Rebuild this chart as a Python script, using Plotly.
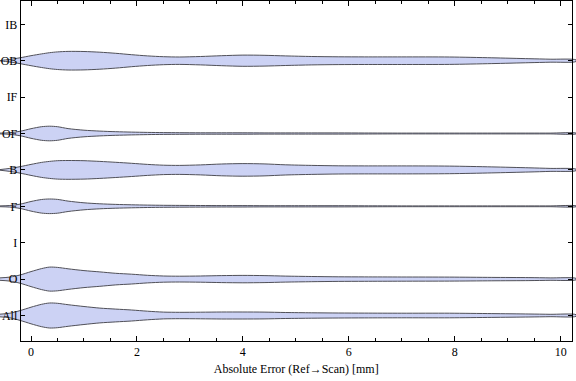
import plotly.graph_objects as go

# Category order, bottom (position 1) to top (position 9)
categories = ["All", "O", "I", "F", "B", "OF", "IF", "OB", "IB"]

# Shared sample grid of absolute error values [mm]
x_grid = [-0.59, -0.4, -0.2, 0.0, 0.2, 0.35, 0.5, 0.7, 1.0, 1.3, 1.6, 1.9, 2.2, 2.5,
          2.8, 3.2, 3.6, 4.0, 4.4, 4.8, 5.3, 5.8, 6.3, 7.0, 7.9, 8.7, 9.4, 9.8, 10.29]

# Estimated (scaled) density half-widths of each violin along x_grid
ob_density = [0.0, 1.3, 3.0, 5.0, 6.8, 8.0, 8.8, 9.3, 9.2, 8.5, 7.4, 6.0, 4.8, 4.0,
              3.7, 4.2, 5.0, 5.6, 5.4, 4.8, 4.2, 3.9, 3.8, 3.8, 3.7, 2.9, 2.0, 1.5, 0.8]
b_density = [0.3, 1.5, 3.3, 5.5, 7.5, 8.5, 9.2, 9.4, 9.2, 8.5, 7.6, 6.6, 5.5, 4.7,
             4.5, 5.0, 5.9, 6.3, 6.0, 5.1, 4.5, 4.1, 4.0, 4.0, 3.8, 3.0, 2.1, 1.5, 0.7]
of_density = [0.4, 0.8, 2.3, 4.8, 6.8, 7.3, 6.8, 4.9, 3.3, 2.4, 1.8, 1.4, 1.1, 0.9,
              0.8, 0.7, 0.7, 0.7, 0.6, 0.6, 0.6, 0.6, 0.5, 0.4, 0.4, 0.4, 0.4, 0.4, 0.4]
f_density = [0.4, 0.8, 2.2, 4.8, 6.8, 7.3, 6.9, 5.2, 3.5, 2.5, 1.9, 1.5, 1.2, 1.0,
             0.9, 0.8, 0.7, 0.7, 0.6, 0.6, 0.6, 0.6, 0.5, 0.4, 0.4, 0.4, 0.4, 0.4, 0.4]
o_density = [1.2, 2.0, 4.2, 7.5, 10.5, 12.0, 11.7, 10.3, 8.5, 7.2, 5.8, 4.9, 3.8, 3.1,
             2.9, 3.1, 3.5, 3.7, 3.5, 3.0, 2.6, 2.3, 2.2, 2.1, 2.0, 1.7, 1.5, 1.2, 0.7]
all_density = [1.3, 2.3, 5.0, 8.3, 11.2, 12.5, 12.2, 10.8, 9.0, 7.4, 6.4, 5.5, 4.3, 3.4,
               3.2, 3.3, 3.5, 3.5, 3.4, 3.0, 2.7, 2.5, 2.4, 2.3, 2.3, 1.9, 1.5, 1.2, 0.8]

violins = {"OB": ob_density, "B": b_density, "OF": of_density,
           "F": f_density, "O": o_density, "All": all_density}

x_ticks = [0, 2, 4, 6, 8, 10]
x_title = "Absolute Error (Ref\u2192Scan) [mm]"

DENSITY_SCALE = 1 / 36.4
FILL = "#ccd2f4"
EDGE = "#505058"
FONT = "Liberation Serif, Times New Roman, serif"

fig = go.Figure()
for name, dens in violins.items():
    c = categories.index(name) + 1
    xs = list(x_grid) + list(reversed(x_grid))
    ys = [c + d * DENSITY_SCALE for d in dens] + [c - d * DENSITY_SCALE for d in reversed(dens)]
    fig.add_trace(go.Scatter(
        x=xs, y=ys, mode="lines", fill="toself", fillcolor=FILL,
        line=dict(color=EDGE, width=1, shape="spline", smoothing=0.8),
        showlegend=False, hoverinfo="skip", xaxis="x", yaxis="y"))

# empty trace to hold the framed axes subplot
fig.add_trace(go.Scatter(x=[], y=[], xaxis="x2", yaxis="y2", showlegend=False))

Y_RANGE = [0.2995, 9.640]
fig.update_layout(
    width=576, height=381,
    margin=dict(l=0, r=0, t=1, b=40),
    paper_bgcolor="white", plot_bgcolor="rgba(0,0,0,0)",
    font=dict(family=FONT, size=12, color="black"),
    xaxis=dict(domain=[0, 1], range=[-0.5852, 10.289], visible=False, anchor="y"),
    yaxis=dict(domain=[0, 1], range=Y_RANGE, visible=False, anchor="x"),
    xaxis2=dict(domain=[0.03594, 0.99253], range=[-0.1945, 10.208], anchor="y2",
                showline=True, linecolor="black", linewidth=1, mirror="ticks",
                ticks="inside", ticklen=5, tickcolor="black", tickwidth=1,
                tickvals=x_ticks, ticktext=[str(v) for v in x_ticks],
                minor=dict(ticks="inside", ticklen=3, dtick=0.5, tick0=0, tickcolor="black"),
                showgrid=False, zeroline=False,
                title=dict(text=x_title, font=dict(family=FONT, size=12), standoff=6),
                tickfont=dict(family=FONT, size=12)),
    yaxis2=dict(domain=[0, 1], range=Y_RANGE, anchor="x2",
                showline=True, linecolor="black", linewidth=1, mirror="ticks",
                ticks="inside", ticklen=4, tickcolor="black", tickwidth=1,
                tickvals=list(range(1, len(categories) + 1)), ticktext=categories,
                showgrid=False, zeroline=False,
                tickfont=dict(family=FONT, size=12)),
)

fig.write_html("out.html",
               config={"displayModeBar": False},
               post_script="document.body.style.margin='0';document.body.style.overflow='hidden';")
